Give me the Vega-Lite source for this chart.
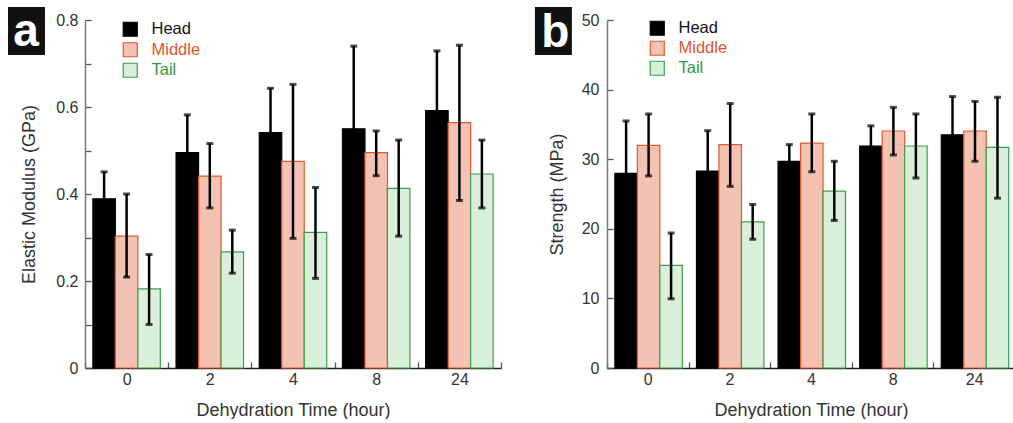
{
  "$schema": "https://vega.github.io/schema/vega-lite/v6.json",
  "padding": {"left": 8, "top": 7, "right": 0, "bottom": 0},
  "spacing": 32,
  "config": {
    "view": {"stroke": null},
    "font": "Liberation Sans",
    "axis": {
      "grid": false,
      "labelFont": "Liberation Sans",
      "titleFont": "Liberation Sans",
      "labelFontSize": 16,
      "titleFontSize": 18,
      "titleFontWeight": "normal",
      "labelColor": "#333",
      "titleColor": "#333",
      "tickColor": "#555",
      "tickWidth": 1.3
    }
  },
  "resolve": {"scale": {"fill": "independent", "stroke": "independent"}, "legend": {"fill": "independent", "stroke": "independent"}},
  "hconcat": [
    {
      "width": 416,
      "height": 348,
      "data": {"values": [
        {"t": "0", "s": "Head", "v": 0.389, "lo": 0.327, "hi": 0.451},
        {"t": "0", "s": "Middle", "v": 0.303, "lo": 0.209, "hi": 0.400},
        {"t": "0", "s": "Tail", "v": 0.182, "lo": 0.100, "hi": 0.261},
        {"t": "2", "s": "Head", "v": 0.495, "lo": 0.408, "hi": 0.582},
        {"t": "2", "s": "Middle", "v": 0.441, "lo": 0.368, "hi": 0.516},
        {"t": "2", "s": "Tail", "v": 0.267, "lo": 0.218, "hi": 0.317},
        {"t": "4", "s": "Head", "v": 0.541, "lo": 0.439, "hi": 0.643},
        {"t": "4", "s": "Middle", "v": 0.475, "lo": 0.298, "hi": 0.652},
        {"t": "4", "s": "Tail", "v": 0.312, "lo": 0.206, "hi": 0.415},
        {"t": "8", "s": "Head", "v": 0.550, "lo": 0.360, "hi": 0.740},
        {"t": "8", "s": "Middle", "v": 0.495, "lo": 0.442, "hi": 0.545},
        {"t": "8", "s": "Tail", "v": 0.413, "lo": 0.303, "hi": 0.524},
        {"t": "24", "s": "Head", "v": 0.592, "lo": 0.455, "hi": 0.729},
        {"t": "24", "s": "Middle", "v": 0.564, "lo": 0.385, "hi": 0.742},
        {"t": "24", "s": "Tail", "v": 0.446, "lo": 0.368, "hi": 0.524}
      ]},
      "layer": [
        {
          "mark": {"type": "bar", "strokeWidth": 1.2},
          "encoding": {
            "x": {"field": "t", "type": "nominal", "sort": ["0", "2", "4", "8", "24"], "scale": {"paddingInner": 0, "paddingOuter": 0},
              "title": "Dehydration Time (hour)",
              "axis": {"labelAngle": 0, "tickBand": "extent", "tickSize": -6, "labelPadding": 9, "titlePadding": 14, "domainColor": "#222", "domainWidth": 1.5}},
            "xOffset": {"field": "s", "type": "nominal", "sort": ["Head", "Middle", "Tail"], "scale": {"paddingOuter": 0.35, "paddingInner": 0}},
            "y": {"field": "v", "type": "quantitative", "scale": {"domain": [0, 0.8], "nice": false},
              "title": "Elastic Modulus (GPa)",
              "axis": {"values": [0, 0.05, 0.1, 0.15, 0.2, 0.25, 0.3, 0.35, 0.4, 0.45, 0.5, 0.55, 0.6, 0.65, 0.7, 0.75, 0.8],
                "labelExpr": "datum.value == 0 ? '0' : (abs(datum.value*5 - round(datum.value*5)) < 0.001 ? format(datum.value, '.1f') : '')",
                "labelOverlap": false, "tickSize": -6, "labelPadding": 13, "titlePadding": 17, "domainColor": "#777", "domainWidth": 1.5}},
            "fill": {"field": "s", "type": "nominal", "scale": {"domain": ["Head", "Middle", "Tail"], "range": ["#000000", "#f4c2b2", "#d9efda"]},
              "legend": {"orient": "none", "legendX": 37, "legendY": 1, "title": null, "symbolType": "square", "symbolSize": 196, "symbolStrokeWidth": 1.2, "labelFontSize": 16.5, "labelFont": "Liberation Sans", "labelOffset": 13, "rowPadding": 0.5, "padding": 0,
                "encode": {"labels": {"update": {"fill": {"signal": "datum.value === 'Middle' ? '#e2542c' : datum.value === 'Tail' ? '#2f9a3e' : '#111111'"}}}}}},
            "stroke": {"field": "s", "type": "nominal", "scale": {"domain": ["Head", "Middle", "Tail"], "range": ["#000000", "#e4572e", "#3c9e4c"]},
              "legend": {"orient": "none", "legendX": 37, "legendY": 1, "title": null, "symbolType": "square", "symbolSize": 196, "symbolStrokeWidth": 1.2, "labelFontSize": 16.5, "labelFont": "Liberation Sans", "labelOffset": 13, "rowPadding": 0.5, "padding": 0,
                "encode": {"labels": {"update": {"fill": {"signal": "datum.value === 'Middle' ? '#e2542c' : datum.value === 'Tail' ? '#2f9a3e' : '#111111'"}}}}}}
          }
        },
        {
          "mark": {"type": "rule", "color": "#000", "strokeWidth": 2.5},
          "encoding": {
            "x": {"field": "t", "type": "nominal", "sort": ["0", "2", "4", "8", "24"]},
            "xOffset": {"field": "s", "type": "nominal", "sort": ["Head", "Middle", "Tail"]},
            "y": {"field": "lo", "type": "quantitative"},
            "y2": {"field": "hi"}
          }
        },
        {
          "mark": {"type": "tick", "color": "#000", "size": 7, "thickness": 3},
          "encoding": {
            "x": {"field": "t", "type": "nominal", "sort": ["0", "2", "4", "8", "24"]},
            "xOffset": {"field": "s", "type": "nominal", "sort": ["Head", "Middle", "Tail"]},
            "y": {"field": "hi", "type": "quantitative"}
          }
        },
        {
          "mark": {"type": "tick", "color": "#000", "size": 7, "thickness": 3},
          "encoding": {
            "x": {"field": "t", "type": "nominal", "sort": ["0", "2", "4", "8", "24"]},
            "xOffset": {"field": "s", "type": "nominal", "sort": ["Head", "Middle", "Tail"]},
            "y": {"field": "lo", "type": "quantitative"}
          }
        },
        {
          "data": {"values": [{"lab": "a"}]},
          "mark": {"type": "point", "shape": "M-0.77,-1L0.77,-1L0.77,1L-0.77,1Z", "size": 2304, "filled": true, "color": "#111111", "opacity": 1, "xOffset": -100.1, "yOffset": 11},
          "encoding": {"x": {"datum": "0", "type": "nominal"}, "y": {"datum": 0.8, "type": "quantitative"}}
        },
        {
          "data": {"values": [{"lab": "a"}]},
          "mark": {"type": "text", "color": "#ffffff", "font": "Liberation Sans", "fontWeight": "bold", "fontSize": 46, "align": "center", "baseline": "alphabetic", "xOffset": -100.6, "yOffset": 26},
          "encoding": {"x": {"datum": "0", "type": "nominal"}, "y": {"datum": 0.8, "type": "quantitative"}, "text": {"field": "lab"}}
        }
      ]
    },
    {
      "width": 408,
      "height": 348,
      "data": {"values": [
        {"t": "0", "s": "Head", "v": 27.95, "lo": 20.4, "hi": 35.5},
        {"t": "0", "s": "Middle", "v": 32.0, "lo": 27.6, "hi": 36.5},
        {"t": "0", "s": "Tail", "v": 14.74, "lo": 9.94, "hi": 19.4},
        {"t": "2", "s": "Head", "v": 28.3, "lo": 22.5, "hi": 34.1},
        {"t": "2", "s": "Middle", "v": 32.1, "lo": 26.1, "hi": 38.0},
        {"t": "2", "s": "Tail", "v": 21.0, "lo": 18.5, "hi": 23.5},
        {"t": "4", "s": "Head", "v": 29.7, "lo": 27.3, "hi": 32.1},
        {"t": "4", "s": "Middle", "v": 32.3, "lo": 28.2, "hi": 36.5},
        {"t": "4", "s": "Tail", "v": 25.4, "lo": 21.2, "hi": 29.7},
        {"t": "8", "s": "Head", "v": 31.9, "lo": 29.0, "hi": 34.8},
        {"t": "8", "s": "Middle", "v": 34.05, "lo": 30.6, "hi": 37.45},
        {"t": "8", "s": "Tail", "v": 31.9, "lo": 27.3, "hi": 36.5},
        {"t": "24", "s": "Head", "v": 33.5, "lo": 28.0, "hi": 39.0},
        {"t": "24", "s": "Middle", "v": 34.05, "lo": 29.7, "hi": 38.3},
        {"t": "24", "s": "Tail", "v": 31.7, "lo": 24.4, "hi": 38.9}
      ]},
      "layer": [
        {
          "mark": {"type": "bar", "strokeWidth": 1.2},
          "encoding": {
            "x": {"field": "t", "type": "nominal", "sort": ["0", "2", "4", "8", "24"], "scale": {"paddingInner": 0, "paddingOuter": 0},
              "title": "Dehydration Time (hour)",
              "axis": {"labelAngle": 0, "tickBand": "extent", "tickSize": -6, "labelPadding": 9, "titlePadding": 14, "domainColor": "#222", "domainWidth": 1.5}},
            "xOffset": {"field": "s", "type": "nominal", "sort": ["Head", "Middle", "Tail"], "scale": {"paddingOuter": 0.35, "paddingInner": 0}},
            "y": {"field": "v", "type": "quantitative", "scale": {"domain": [0, 50], "nice": false},
              "title": "Strength (MPa)",
              "axis": {"values": [0, 2.5, 5, 7.5, 10, 12.5, 15, 17.5, 20, 22.5, 25, 27.5, 30, 32.5, 35, 37.5, 40, 42.5, 45, 47.5, 50],
                "labelExpr": "datum.value % 10 == 0 ? format(datum.value, 'd') : ''",
                "labelOverlap": false, "tickSize": -6, "labelPadding": 14, "titlePadding": 15, "domainColor": "#777", "domainWidth": 1.5}},
            "fill": {"field": "s", "type": "nominal", "scale": {"domain": ["Head", "Middle", "Tail"], "range": ["#000000", "#f4c2b2", "#d9efda"]},
              "legend": {"orient": "none", "legendX": 42, "legendY": 0, "title": null, "symbolType": "square", "symbolSize": 196, "symbolStrokeWidth": 1.2, "labelFontSize": 16.5, "labelFont": "Liberation Sans", "labelOffset": 13, "rowPadding": 0, "padding": 0,
                "encode": {"labels": {"update": {"fill": {"signal": "datum.value === 'Middle' ? '#e2542c' : datum.value === 'Tail' ? '#2f9a3e' : '#111111'"}}}}}},
            "stroke": {"field": "s", "type": "nominal", "scale": {"domain": ["Head", "Middle", "Tail"], "range": ["#000000", "#e4572e", "#3c9e4c"]},
              "legend": {"orient": "none", "legendX": 42, "legendY": 0, "title": null, "symbolType": "square", "symbolSize": 196, "symbolStrokeWidth": 1.2, "labelFontSize": 16.5, "labelFont": "Liberation Sans", "labelOffset": 13, "rowPadding": 0, "padding": 0,
                "encode": {"labels": {"update": {"fill": {"signal": "datum.value === 'Middle' ? '#e2542c' : datum.value === 'Tail' ? '#2f9a3e' : '#111111'"}}}}}}
          }
        },
        {
          "mark": {"type": "rule", "color": "#000", "strokeWidth": 2.5},
          "encoding": {
            "x": {"field": "t", "type": "nominal", "sort": ["0", "2", "4", "8", "24"]},
            "xOffset": {"field": "s", "type": "nominal", "sort": ["Head", "Middle", "Tail"]},
            "y": {"field": "lo", "type": "quantitative"},
            "y2": {"field": "hi"}
          }
        },
        {
          "mark": {"type": "tick", "color": "#000", "size": 7, "thickness": 3},
          "encoding": {
            "x": {"field": "t", "type": "nominal", "sort": ["0", "2", "4", "8", "24"]},
            "xOffset": {"field": "s", "type": "nominal", "sort": ["Head", "Middle", "Tail"]},
            "y": {"field": "hi", "type": "quantitative"}
          }
        },
        {
          "mark": {"type": "tick", "color": "#000", "size": 7, "thickness": 3},
          "encoding": {
            "x": {"field": "t", "type": "nominal", "sort": ["0", "2", "4", "8", "24"]},
            "xOffset": {"field": "s", "type": "nominal", "sort": ["Head", "Middle", "Tail"]},
            "y": {"field": "lo", "type": "quantitative"}
          }
        },
        {
          "data": {"values": [{"lab": "b"}]},
          "mark": {"type": "point", "shape": "M-0.77,-1L0.77,-1L0.77,1L-0.77,1Z", "size": 2304, "filled": true, "color": "#111111", "opacity": 1, "xOffset": -94.4, "yOffset": 11},
          "encoding": {"x": {"datum": "0", "type": "nominal"}, "y": {"datum": 50, "type": "quantitative"}}
        },
        {
          "data": {"values": [{"lab": "b"}]},
          "mark": {"type": "text", "color": "#ffffff", "font": "Liberation Sans", "fontWeight": "bold", "fontSize": 46, "align": "center", "baseline": "alphabetic", "xOffset": -92.5, "yOffset": 27},
          "encoding": {"x": {"datum": "0", "type": "nominal"}, "y": {"datum": 50, "type": "quantitative"}, "text": {"field": "lab"}}
        }
      ]
    }
  ]
}
